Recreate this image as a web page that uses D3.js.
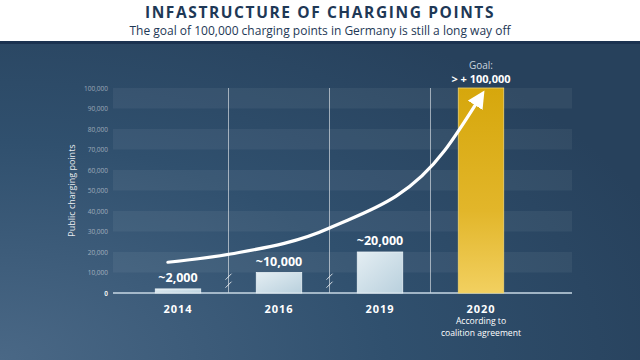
<!DOCTYPE html>
<html>
<head>
<meta charset="utf-8">
<script src="https://cdn.jsdelivr.net/npm/d3@7"></script>
<style>
  html, body { margin: 0; padding: 0; background: #ffffff; }
  svg { display: block; font-family: "Open Sans", "DejaVu Sans", sans-serif; }
</style>
</head>
<body>
<svg width="640" height="360"></svg>
<script>
// Chart data
var years = ["2014", "2016", "2019", "2020"];
var values = [2000, 10000, 20000, 100000];
var valueLabels = ["~2,000", "~10,000", "~20,000", "> + 100,000"];
var yTicks = [0, 10000, 20000, 30000, 40000, 50000, 60000, 70000, 80000, 90000, 100000];
// arrow path, as [band index offset, value]
var arrowIdx = [-0.1, 0.52, 1.5, 2.64, 2.96];
var arrowVal = [15000, 19000, 31700, 69500, 93000];

var svg = d3.select("svg"),
  W = 640,
  H = 360;

var defs = svg.append("defs");

// background gradient (lighter at bottom left)
var bg = defs.append("radialGradient")
  .attr("id", "bg")
  .attr("cx", "0").attr("cy", "1").attr("r", "1.1");
bg.append("stop").attr("offset", "0").attr("stop-color", "#4a6886");
bg.append("stop").attr("offset", "0.55").attr("stop-color", "#30506e");
bg.append("stop").attr("offset", "1").attr("stop-color", "#27415c");

var barGrad = defs.append("linearGradient")
  .attr("id", "barGrad").attr("x1", 0).attr("y1", 0).attr("x2", 1).attr("y2", 1);
barGrad.append("stop").attr("offset", "0").attr("stop-color", "#e4eef3");
barGrad.append("stop").attr("offset", "1").attr("stop-color", "#b9d0dd");

var goldGrad = defs.append("linearGradient")
  .attr("id", "goldGrad").attr("x1", 0).attr("y1", 0).attr("x2", 0).attr("y2", 1);
goldGrad.append("stop").attr("offset", "0").attr("stop-color", "#d6a70c");
goldGrad.append("stop").attr("offset", "0.6").attr("stop-color", "#e2b62a");
goldGrad.append("stop").attr("offset", "1").attr("stop-color", "#f2d060");

defs.append("marker")
  .attr("id", "head")
  .attr("viewBox", "0 0 10 10")
  .attr("refX", 2).attr("refY", 5)
  .attr("markerWidth", 5.5).attr("markerHeight", 5.5)
  .attr("markerUnits", "strokeWidth")
  .attr("orient", "auto")
  .append("path")
  .attr("d", "M0,0 L10,5 L0,10 Z")
  .attr("fill", "#ffffff");

svg.append("rect").attr("width", W).attr("height", H).attr("fill", "url(#bg)");

// header
svg.append("rect").attr("width", W).attr("height", 41).attr("fill", "#ffffff");
svg.append("rect").attr("y", 41).attr("width", W).attr("height", 3).attr("fill", "#1b3250");

svg.append("text")
  .attr("x", W / 2).attr("y", 18)
  .attr("text-anchor", "middle")
  .attr("font-size", 15.5).attr("font-weight", "bold")
  .attr("letter-spacing", 1.6)
  .attr("fill", "#1e3856")
  .text("INFASTRUCTURE OF CHARGING POINTS");

svg.append("text")
  .attr("x", W / 2).attr("y", 35)
  .attr("text-anchor", "middle")
  .attr("font-size", 12)
  .attr("fill", "#1e3856")
  .text("The goal of 100,000 charging points in Germany is still a long way off");

// scales
var y = d3.scaleLinear().domain([0, 100000]).range([293, 88]);
var x = d3.scaleBand().domain(years).range([127, 532]).paddingInner(0.55).paddingOuter(0.28);
var gridX0 = 113, gridX1 = 572;
var center = function (i) { return x(years[0]) + x.bandwidth() / 2 + i * x.step(); };

// stripes
var stripes = d3.range(1, yTicks.length, 2);
svg.append("g").selectAll("rect")
  .data(stripes)
  .enter().append("rect")
  .attr("x", gridX0)
  .attr("width", gridX1 - gridX0)
  .attr("y", function (i) { return y(yTicks[i + 1 < yTicks.length ? i + 1 : i]); })
  .attr("height", function (i) { return y(yTicks[i]) - y(yTicks[i + 1 < yTicks.length ? i + 1 : i]); })
  .attr("fill", "#ffffff").attr("fill-opacity", 0.055);

// y axis
var yAxis = svg.append("g")
  .attr("transform", "translate(" + gridX0 + ",0)")
  .call(d3.axisLeft(y).tickValues(yTicks).tickSize(0).tickPadding(5).tickFormat(d3.format(",")));
yAxis.select(".domain").remove();
yAxis.selectAll("text")
  .attr("font-size", 6.5)
  .attr("font-family", "Open Sans, sans-serif")
  .attr("fill", "#ffffff")
  .attr("fill-opacity", 0.5);
yAxis.selectAll("text").filter(function (d) { return d === 0; }).attr("fill-opacity", 0.9).attr("font-weight", "bold");

svg.append("text")
  .attr("transform", "translate(75," + y(50000) + ") rotate(-90)")
  .attr("text-anchor", "middle")
  .attr("font-size", 9)
  .attr("fill", "#ffffff")
  .attr("fill-opacity", 0.9)
  .text("Public charging points");

// separators between years
var seps = d3.range(1, years.length);
svg.append("g").selectAll("line")
  .data(seps)
  .enter().append("line")
  .attr("x1", function (i) { return center(i - 0.5); })
  .attr("x2", function (i) { return center(i - 0.5); })
  .attr("y1", y(100000)).attr("y2", y(0))
  .attr("stroke", "#ffffff").attr("stroke-opacity", 0.55).attr("stroke-width", 1);

// break marks on the first two separators
var breaks = svg.append("g");
[1, 2].forEach(function (i) {
  var cx = center(i - 0.5);
  [-1, 1].forEach(function (k) {
    var cy = y(6000) + k * 4;
    breaks.append("line")
      .attr("x1", cx - 3).attr("y1", cy + 3)
      .attr("x2", cx + 3).attr("y2", cy - 3)
      .attr("stroke", "#ffffff").attr("stroke-opacity", 0.8).attr("stroke-width", 1);
  });
});

// baseline
svg.append("line")
  .attr("x1", gridX0).attr("x2", gridX1)
  .attr("y1", y(0)).attr("y2", y(0))
  .attr("stroke", "#c9d9e4").attr("stroke-width", 1.5);

// bars
svg.append("g").selectAll("rect")
  .data(values)
  .enter().append("rect")
  .attr("x", function (d, i) { return x(years[i]); })
  .attr("width", x.bandwidth())
  .attr("y", function (d) { return y(d); })
  .attr("height", function (d) { return y(0) - y(d); })
  .attr("fill", function (d, i) { return i === years.length - 1 ? "url(#goldGrad)" : "url(#barGrad)"; })
  .attr("stroke", function (d, i) { return i === years.length - 1 ? "#f0d470" : "#e8f1f6"; })
  .attr("stroke-width", 0.8);

// value labels
svg.append("g").selectAll("text")
  .data(values.slice(0, 3))
  .enter().append("text")
  .attr("x", function (d, i) { return center(i); })
  .attr("y", function (d) { return y(d) - 7; })
  .attr("text-anchor", "middle")
  .attr("font-size", 12.5).attr("font-weight", "bold")
  .attr("fill", "#ffffff")
  .text(function (d, i) { return valueLabels[i]; });

svg.append("text")
  .attr("x", center(3)).attr("y", y(100000) - 19)
  .attr("text-anchor", "middle")
  .attr("font-size", 10)
  .attr("fill", "#c9d5df")
  .text("Goal:");
svg.append("text")
  .attr("x", center(3)).attr("y", y(100000) - 5)
  .attr("text-anchor", "middle")
  .attr("font-size", 11).attr("font-weight", "bold")
  .attr("fill", "#ffffff")
  .text(valueLabels[3]);

// x labels
var xAxis = svg.append("g")
  .attr("transform", "translate(0," + y(0) + ")")
  .call(d3.axisBottom(x).tickSize(0).tickPadding(12));
xAxis.select(".domain").remove();
xAxis.selectAll("text")
  .attr("font-size", 11)
  .attr("font-weight", "bold")
  .attr("font-family", "Open Sans, sans-serif")
  .attr("letter-spacing", 1)
  .attr("fill", "#ffffff");

svg.append("text")
  .attr("x", center(3)).attr("y", y(0) + 31)
  .attr("text-anchor", "middle")
  .attr("font-size", 8.6)
  .attr("fill", "#ffffff")
  .selectAll("tspan")
  .data(["According to", "coalition agreement"])
  .enter().append("tspan")
  .attr("x", center(3))
  .attr("dy", function (d, i) { return i === 0 ? 0 : 11.8; })
  .text(function (d) { return d; });

// growth arrow
var arrowPts = arrowIdx.map(function (d, i) { return [center(d), y(arrowVal[i])]; });
svg.append("path")
  .datum(arrowPts)
  .attr("d", d3.line().curve(d3.curveMonotoneX))
  .attr("fill", "none")
  .attr("stroke", "#ffffff")
  .attr("stroke-width", 3.2)
  .attr("stroke-linecap", "round")
  .attr("marker-end", "url(#head)");
</script>
</body>
</html>
